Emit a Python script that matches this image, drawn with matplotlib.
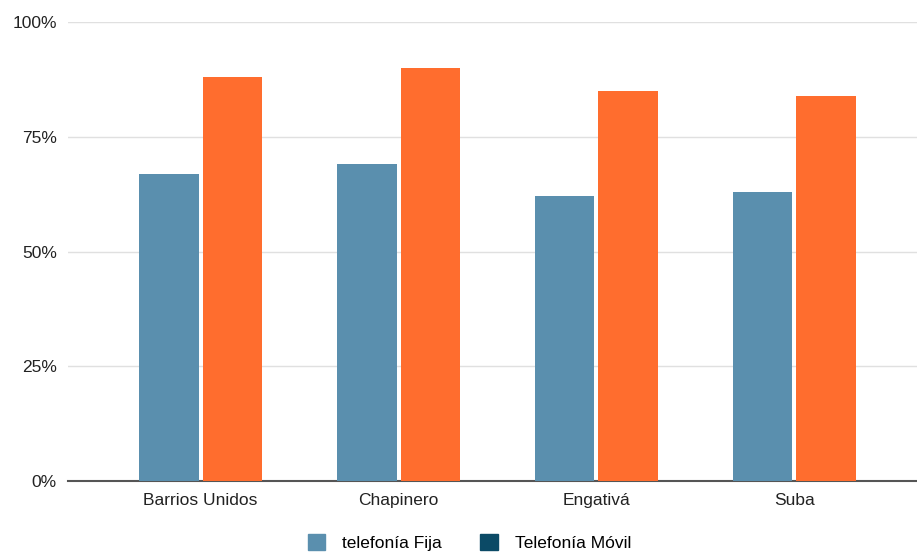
import numpy as np
import matplotlib.pyplot as plt
from matplotlib.patches import Patch
from matplotlib.ticker import FuncFormatter

plt.rcParams['font.family'] = ['Liberation Sans', 'DejaVu Sans']

localidades = ['Barrios Unidos', 'Chapinero', 'Engativá', 'Suba']
fija = [67, 69, 62, 63]
movil = [88, 90, 85, 84]
series_names = ['telefonía Fija', 'Telefonía Móvil']

c_fija = '#5a8fae'
c_movil = '#ff6d2e'
c_legend_movil = '#0b4a66'

fig = plt.figure(figsize=(9.17, 5.53), dpi=100)
ax = fig.add_axes([0.0742, 0.1302, 0.9258, 0.8298])

x = np.arange(len(localidades))
w = 0.3
gap = 0.01
ax.bar(x - w / 2 - gap, fija, width=w, color=c_fija, zorder=3)
ax.bar(x + w / 2 + gap, movil, width=w, color=c_movil, zorder=3)

ax.set_xlim(-0.67, 3.62)
ax.set_ylim(0, 100)
ax.set_yticks([0, 25, 50, 75, 100])
ax.yaxis.set_major_formatter(FuncFormatter(lambda v, p: f'{v:.0f}%'))
ax.set_xticks(x)
ax.set_xticklabels(localidades)
ax.grid(axis='y', color='#e0e0e0', linewidth=1, zorder=0)
for s in ['top', 'right', 'left']:
    ax.spines[s].set_visible(False)
ax.spines['bottom'].set_color('#555555')
ax.spines['bottom'].set_linewidth(1.5)
ax.tick_params(axis='both', length=0, labelsize=12.5, colors='#222222')
ax.tick_params(axis='x', pad=9)
ax.tick_params(axis='y', pad=8)

handles = [Patch(color=c_fija), Patch(color=c_legend_movil)]
fig.legend(handles, series_names, loc='lower center', bbox_to_anchor=(0.512, -0.025),
           ncol=2, frameon=False, fontsize=12.5, handlelength=1.0, handleheight=1.0,
           handletextpad=1.0, columnspacing=2.2)

fig.savefig('out.png', dpi=100)
